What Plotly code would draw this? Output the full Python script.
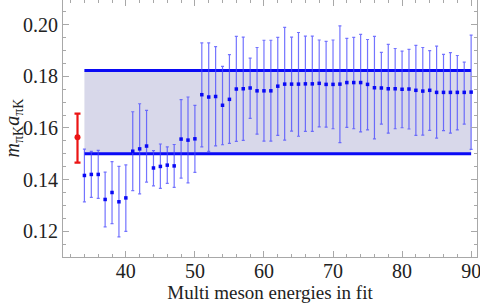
import plotly.graph_objects as go

# ---- data ----
n_energies = list(range(34, 91))
central = [0.1416, 0.1420, 0.1420, 0.1323, 0.1350, 0.1314, 0.1329, 0.1510, 0.1519, 0.1530,
           0.1445, 0.1451, 0.1456, 0.1453, 0.1557, 0.1553, 0.1558, 0.1729, 0.1720, 0.1722,
           0.1688, 0.1711, 0.1751, 0.1752, 0.1755, 0.1744, 0.1744, 0.1744, 0.1762, 0.1770,
           0.1770, 0.1770, 0.1771, 0.1771, 0.1773, 0.1769, 0.1769, 0.1770, 0.1776, 0.1776,
           0.1776, 0.1769, 0.1756, 0.1755, 0.1752, 0.1752, 0.1750, 0.1751, 0.1746, 0.1743,
           0.1746, 0.1738, 0.1738, 0.1738, 0.1738, 0.1738, 0.1739]
upper = [0.1518, 0.1509, 0.1513, 0.1429, 0.1470, 0.1451, 0.1457, 0.1663, 0.1694, 0.1668,
         0.1512, 0.1538, 0.1527, 0.1536, 0.1710, 0.1720, 0.1688, 0.1930, 0.1930, 0.1915,
         0.1839, 0.1884, 0.1955, 0.1952, 0.1871, 0.1912, 0.1940, 0.1940, 0.1951, 0.1990,
         0.1952, 0.1970, 0.1956, 0.1956, 0.1941, 0.1936, 0.1941, 0.1996, 0.1947, 0.1951,
         0.1963, 0.1943, 0.1955, 0.1893, 0.1924, 0.1908, 0.1898, 0.1905, 0.1920, 0.1912,
         0.1900, 0.1917, 0.1885, 0.1892, 0.1881, 0.1855, 0.1960]
lower = [0.1314, 0.1331, 0.1327, 0.1217, 0.1229, 0.1178, 0.1199, 0.1357, 0.1345, 0.1390,
         0.1376, 0.1366, 0.1385, 0.1370, 0.1406, 0.1387, 0.1428, 0.1527, 0.1509, 0.1531,
         0.1535, 0.1540, 0.1548, 0.1552, 0.1637, 0.1576, 0.1549, 0.1549, 0.1571, 0.1553,
         0.1588, 0.1568, 0.1587, 0.1587, 0.1604, 0.1603, 0.1597, 0.1543, 0.1602, 0.1597,
         0.1585, 0.1593, 0.1558, 0.1615, 0.1580, 0.1597, 0.1601, 0.1596, 0.1571, 0.1572,
         0.1591, 0.1561, 0.1590, 0.1580, 0.1593, 0.1615, 0.1517]

ref_x = [33]
ref_y = [0.1564]
ref_up = [0.1656]
ref_lo = [0.1466]

band_x = [34, 90]
band_low = [0.1500, 0.1500]
band_high = [0.1823, 0.1823]

x_ticks = [40, 50, 60, 70, 80, 90]
y_ticks = [0.12, 0.14, 0.16, 0.18, 0.20]

# ---- figure ----
BLUE = "rgb(10,10,245)"
FONT = "Liberation Serif, DejaVu Serif, serif"

fig = go.Figure()

fig.add_trace(go.Scatter(x=band_x, y=band_low, mode="lines",
                         line=dict(color=BLUE, width=3), hoverinfo="skip", showlegend=False))
fig.add_trace(go.Scatter(x=band_x, y=band_high, mode="lines", fill="tonexty",
                         fillcolor="rgb(216,216,234)",
                         line=dict(color=BLUE, width=3), hoverinfo="skip", showlegend=False))

err_plus = [u - c for u, c in zip(upper, central)]
err_minus = [c - l for c, l in zip(central, lower)]
fig.add_trace(go.Scatter(
    x=n_energies, y=central, mode="markers",
    marker=dict(symbol="square", size=3.5, color=BLUE, line=dict(width=0)),
    error_y=dict(type="data", symmetric=False, array=err_plus, arrayminus=err_minus,
                 color="rgba(70,70,255,0.75)", thickness=1.2, width=1.5),
    showlegend=False))

fig.add_trace(go.Scatter(
    x=ref_x, y=ref_y, mode="markers",
    marker=dict(symbol="circle", size=6, color="rgb(235,20,20)", line=dict(width=0)),
    error_y=dict(type="data", symmetric=False,
                 array=[u - c for u, c in zip(ref_up, ref_y)],
                 arrayminus=[c - l for c, l in zip(ref_y, ref_lo)],
                 color="rgb(235,20,20)", thickness=2.2, width=3),
    showlegend=False))

axis_common = dict(showline=True, mirror="allticks", linecolor="#a8a8a8", linewidth=1,
                   ticks="inside", ticklen=6, tickcolor="#a8a8a8", tickwidth=1,
                   showgrid=False, zeroline=False, automargin=False,
                   ticklabeloverflow="allow",
                   tickfont=dict(family=FONT, size=20, color="#222"))

fig.update_xaxes(range=[30.9, 90.85], tickvals=x_ticks,
                 minor=dict(dtick=2, ticks="inside", ticklen=3, tickcolor="#a8a8a8"),
                 ticklabelstandoff=-4,
                 title=dict(text="Multi meson energies in fit",
                            font=dict(family=FONT, size=19, color="#222"), standoff=4),
                 **axis_common)
fig.update_yaxes(range=[0.11, 0.2096], tickvals=y_ticks, tickformat=".2f",
                 minor=dict(dtick=0.005, ticks="inside", ticklen=3, tickcolor="#a8a8a8"),
                 **axis_common)

fig.add_annotation(text="<i>m</i><sub>πK</sub><i>a</i><sub>πK</sub>",
                   xref="paper", yref="paper", x=-50 / 414, y=0.5,
                   xanchor="center", yanchor="middle", textangle=-90, showarrow=False,
                   font=dict(family=FONT, size=20, color="#222"))

fig.update_layout(width=480, height=305, margin=dict(l=63, r=3, t=0, b=48),
                  plot_bgcolor="white", paper_bgcolor="white",
                  font=dict(family=FONT))

fig.write_html("out.html", config={"displayModeBar": False},
               post_script="document.body.style.margin='0';document.body.style.overflow='hidden';")
